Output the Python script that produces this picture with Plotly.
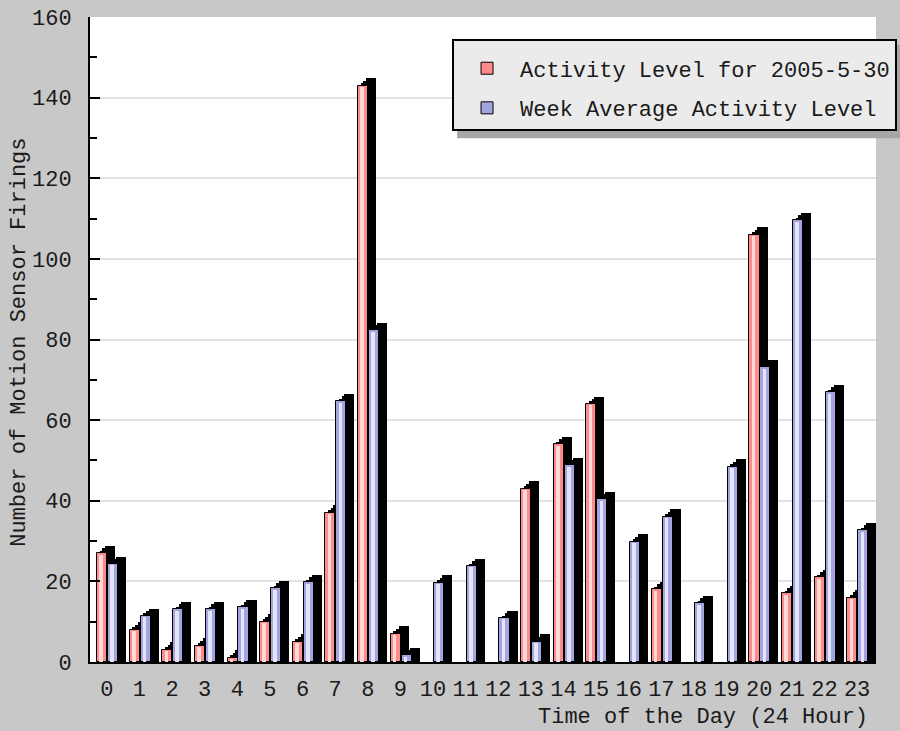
import plotly.graph_objects as go

hours = list(range(24))
tick_labels = [str(h) for h in hours]
day_activity = [27, 8, 3, 4, 1, 10, 5, 37, 143, 7, 0, 0, 0, 43, 54, 64, 0, 18, 0, 0, 106, 17, 21, 16]
week_average = [24.3, 11.4, 13.1, 13.1, 13.6, 18.3, 19.8, 64.7, 82.3, 1.7, 19.6, 23.8, 10.9, 5.0,
                48.8, 40.4, 29.8, 36.0, 14.6, 48.4, 73.1, 109.6, 66.9, 32.7]
series_names = ["Activity Level for 2005-5-30", "Week Average Activity Level"]

FONT = "Liberation Mono"
FS = 22
DX = 0.245   # depth in x units
DY = 1.86    # depth in y units
W = 0.31

def nz(vals, add=0.0):
    return [v + add if v > 0 else None for v in vals]

fig = go.Figure()

def add_series(vals, name, off, face, light, legendgroup):
    for k in (0.34, 0.67, 1.0):
        fig.add_trace(go.Bar(x=hours, y=nz(vals, DY * k), offset=off + DX * k, width=W,
                             marker=dict(color="black", line=dict(width=0)),
                             showlegend=False, hoverinfo="skip"))
    fig.add_trace(go.Bar(x=hours, y=nz(vals), offset=off, width=W, name=name,
                         legendgroup=legendgroup,
                         marker=dict(color=face, line=dict(color="black", width=1))))
    fig.add_trace(go.Bar(x=hours, y=nz(vals, -0.35), offset=off + 0.07, width=0.11,
                         marker=dict(color=light, line=dict(width=0)),
                         showlegend=False, hoverinfo="skip"))

add_series(day_activity, series_names[0], -0.30, "#ff8a8a", "#ffd8d8", "a")
add_series(week_average, series_names[1], 0.035, "#a4a4e0", "#e4e4fa", "b")

fig.update_layout(
    width=900, height=731,
    paper_bgcolor="#c8c8c8", plot_bgcolor="white",
    margin=dict(l=90, r=24, t=17, b=69, autoexpand=False),
    barmode="overlay", bargap=0,
    font=dict(family=FONT, size=FS, color="#1a1a1a"),
    showlegend=True,
    legend=dict(x=0.4606, y=0.966, xanchor="left", yanchor="top",
                bgcolor="#ebebeb", bordercolor="black", borderwidth=2,
                font=dict(family=FONT, size=FS), tracegroupgap=8,
                traceorder="grouped", itemwidth=56,
                title=dict(text=" ", font=dict(size=5))),
    xaxis=dict(range=[-0.515, 23.58], tickmode="array", tickvals=hours, ticktext=tick_labels,
               showgrid=False, zeroline=False, showline=True, linecolor="black", linewidth=2,
               ticks="", ticklabelstandoff=6, fixedrange=True),
    yaxis=dict(range=[0, 160], dtick=20, showgrid=True, gridcolor="#e2e2e2", gridwidth=2,
               zeroline=False, showline=True, linecolor="black", linewidth=2,
               ticks="inside", ticklen=10, tickwidth=2, tickcolor="black",
               minor=dict(dtick=10, ticks="inside", ticklen=7, tickwidth=2, tickcolor="black", showgrid=False),
               ticklabelstandoff=12, fixedrange=True),
    shapes=[
        dict(type="rect", xref="paper", yref="paper", layer="above",
             x0=0.467, x1=1.04, y0=0.812, y1=0.957,
             fillcolor="#a6a6a6", line=dict(width=0)),
    ],
    annotations=[
        dict(text="Number of Motion Sensor Firings", textangle=-90, xref="paper", yref="paper",
             x=-0.089, y=0.495, xanchor="center", yanchor="middle", showarrow=False,
             font=dict(family=FONT, size=FS)),
        dict(text="Time of the Day (24 Hour)", xref="paper", yref="paper",
             x=0.992, y=-0.0853, xanchor="right", yanchor="middle", showarrow=False,
             font=dict(family=FONT, size=FS)),
    ],
)

fig.write_html("out.html", config={"displayModeBar": False},
               post_script="document.body.style.margin='0';document.body.style.overflow='hidden';")
